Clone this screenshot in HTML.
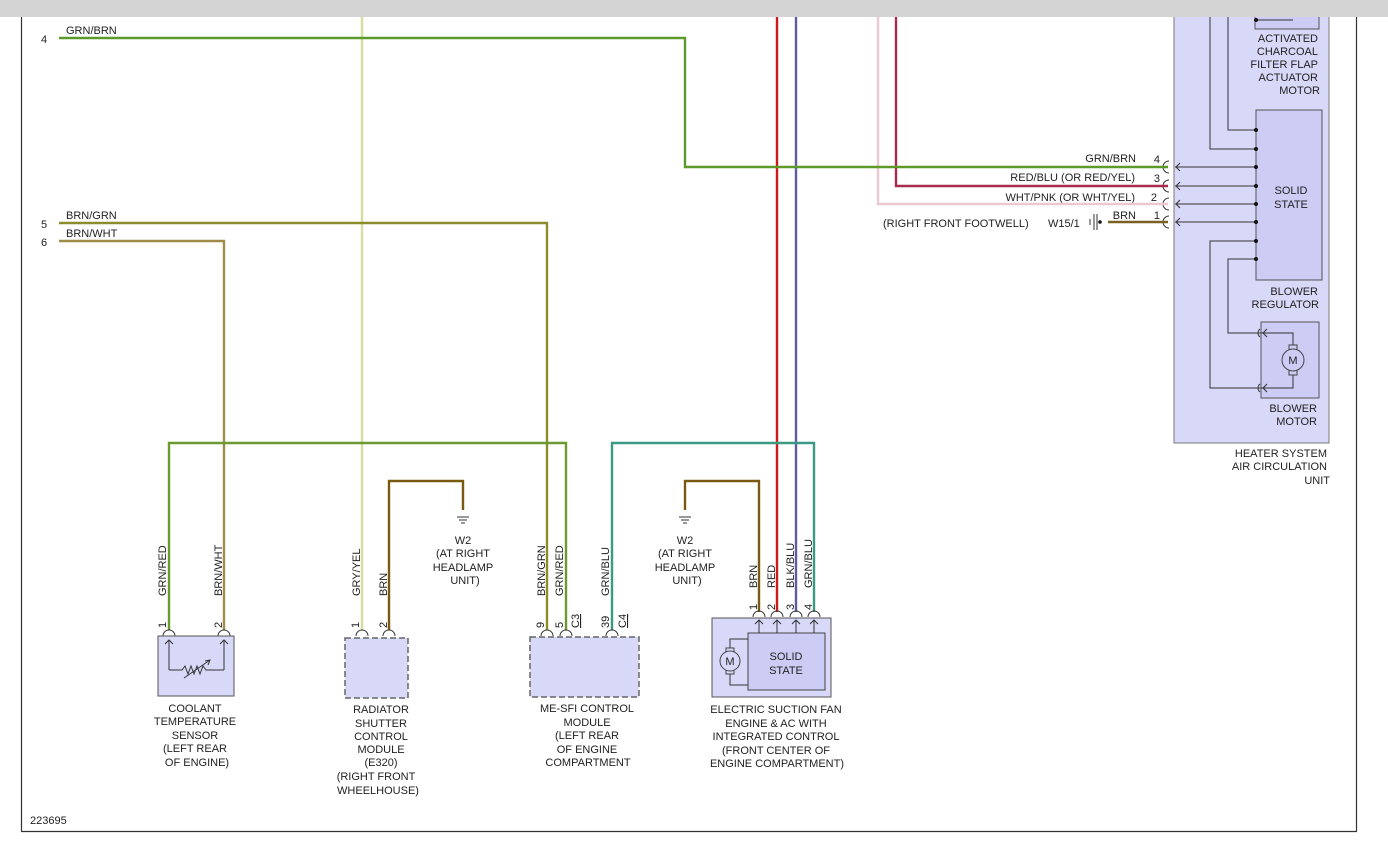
<!DOCTYPE html>
<html><head><meta charset="utf-8"><style>
html,body{margin:0;padding:0;background:#fff;}
svg{display:block;}
text{font-family:"Liberation Sans",sans-serif;font-size:11px;fill:#222;}
</style></head><body>
<svg width="1388" height="868" viewBox="0 0 1388 868" xmlns="http://www.w3.org/2000/svg">
<rect x="0" y="0" width="1388" height="868" fill="#fff"/>
<!-- frame -->
<line x1="21.5" y1="17" x2="21.5" y2="831" stroke="#333" stroke-width="1.2"/>
<line x1="1356.5" y1="17" x2="1356.5" y2="831" stroke="#333" stroke-width="1.2"/>
<line x1="21" y1="831.5" x2="1357" y2="831.5" stroke="#333" stroke-width="1.2"/>
<text x="30" y="824" font-size="10">223695</text>

<!-- heater box -->
<rect x="1174" y="5" width="155" height="438" fill="#d8d8f8" stroke="#777" stroke-width="1"/>
<rect x="1255" y="5" width="64" height="24" fill="#ccccf4" stroke="#555"/>
<line x1="1256" y1="20" x2="1293" y2="20" stroke="#333"/>
<circle cx="1256" cy="20" r="2" fill="#111"/>
<path d="M1228 17 V130 H1256 M1210 17 V149 H1256" fill="none" stroke="#333"/>
<rect x="1256" y="110" width="66" height="170" fill="#ccccf4" stroke="#555"/>
<path d="M1175 167 H1256 M1175 186 H1256 M1175 204 H1256 M1175 222 H1256" stroke="#333" fill="none"/>
<path d="M1256 241 H1210 V388 H1261 M1256 259 H1228 V333 H1261" stroke="#333" fill="none"/>
<g fill="#111"><circle cx="1256" cy="130" r="2"/><circle cx="1256" cy="149" r="2"/><circle cx="1256" cy="167" r="2"/><circle cx="1256" cy="186" r="2"/><circle cx="1256" cy="204" r="2"/><circle cx="1256" cy="222" r="2"/><circle cx="1256" cy="241" r="2"/><circle cx="1256" cy="259" r="2"/></g>
<rect x="1261" y="322" width="58" height="76" fill="#ccccf4" stroke="#555"/>
<path d="M1261 333 H1293 V348 M1261 388 H1293 V372" stroke="#333" fill="none"/>
<rect x="1289" y="345" width="8" height="30" fill="#ccccf4" stroke="#444"/>
<circle cx="1293" cy="360" r="11" fill="#ccccf4" stroke="#444"/>
<text x="1293" y="364" font-size="12" text-anchor="middle">M</text>
<g stroke="#333" fill="none"><path d="M1180 163 L1176 167 L1180 171"/><path d="M1180 182 L1176 186 L1180 190"/><path d="M1180 200 L1176 204 L1180 208"/><path d="M1180 218 L1176 222 L1180 226"/>
<path d="M1267 329 L1263 333 L1267 337"/><path d="M1267 384 L1263 388 L1267 392"/>
<path d="M1260 329 A5 5 0 0 0 1260 337"/><path d="M1260 384 A5 5 0 0 0 1260 392"/>
<path d="M1169 161 A6 6 0 0 0 1169 173"/><path d="M1169 180 A6 6 0 0 0 1169 192"/><path d="M1169 198 A6 6 0 0 0 1169 210"/><path d="M1169 216 A6 6 0 0 0 1169 228"/></g>
<g text-anchor="end"><text x="1318" y="42">ACTIVATED</text><text x="1318" y="55">CHARCOAL</text><text x="1318" y="68">FILTER FLAP</text><text x="1318" y="81">ACTUATOR</text><text x="1320" y="94">MOTOR</text>
<text x="1318" y="295">BLOWER</text><text x="1319" y="308">REGULATOR</text><text x="1317" y="412">BLOWER</text><text x="1317" y="425">MOTOR</text>
<text x="1327" y="457">HEATER SYSTEM</text><text x="1327" y="470">AIR CIRCULATION</text><text x="1330" y="484">UNIT</text>
<text x="1136" y="162">GRN/BRN</text><text x="1135" y="181">RED/BLU (OR RED/YEL)</text><text x="1135" y="201">WHT/PNK (OR WHT/YEL)</text><text x="1136" y="219">BRN</text>
<text x="1160" y="163">4</text><text x="1160" y="182">3</text><text x="1157" y="201">2</text><text x="1160" y="219">1</text></g>
<text x="1291" y="194" text-anchor="middle">SOLID</text><text x="1291" y="208" text-anchor="middle">STATE</text>
<text x="883" y="227">(RIGHT FRONT FOOTWELL)</text><text x="1048" y="227">W15/1</text>
<path d="M1090 219 V225 M1094 214 V230 M1097 214 V230" stroke="#333"/><circle cx="1100" cy="222" r="1.8" fill="#111"/>

<!-- wires -->
<g fill="none" stroke-width="2.4">
<path d="M362 17 V630" stroke="#d8dca0"/>
<path d="M878 17 V204 H1168" stroke="#ecc8d0"/>
<path d="M896 17 V186 H1168" stroke="#a82c50"/>
<path d="M777 17 V612" stroke="#cc1a1a"/>
<path d="M796 17 V612" stroke="#5c5ca0"/>
<path d="M59 38 H685 V167 H1168" stroke="#5c9a2c"/>
<path d="M1108 222 H1168" stroke="#7a6020"/>
<path d="M59 223 H547 V630" stroke="#8c8c2c"/>
<path d="M59 241 H224 V630" stroke="#a08c48"/>
<path d="M169 630 V443 H566 V630" stroke="#6a9a30"/>
<path d="M612 630 V443 H814 V612" stroke="#3c9a84"/>
<path d="M389 630 V481 H463 V510" stroke="#7a5a10"/>
<path d="M759 612 V481 H685 V510" stroke="#7a5a10"/>
</g>
<text x="66" y="34">GRN/BRN</text><text x="41" y="43">4</text>
<text x="66" y="219">BRN/GRN</text><text x="41" y="228">5</text>
<text x="66" y="237">BRN/WHT</text><text x="41" y="246">6</text>
<!-- grounds -->
<g stroke="#333"><path d="M457 517 H469 M459 520 H467 M461 523 H465"/><path d="M679 517 H691 M681 520 H689 M683 523 H687"/></g>
<g text-anchor="middle"><text x="463" y="544">W2</text><text x="463" y="557">(AT RIGHT</text><text x="463" y="571">HEADLAMP</text><text x="465" y="584">UNIT)</text>
<text x="685" y="544">W2</text><text x="685" y="557">(AT RIGHT</text><text x="685" y="571">HEADLAMP</text><text x="687" y="584">UNIT)</text></g>

<!-- vertical labels -->
<g>
<text transform="translate(166,596) rotate(-90)">GRN/RED</text>
<text transform="translate(222,596) rotate(-90)">BRN/WHT</text>
<text transform="translate(360,596) rotate(-90)">GRY/YEL</text>
<text transform="translate(387,596) rotate(-90)">BRN</text>
<text transform="translate(545,596) rotate(-90)">BRN/GRN</text>
<text transform="translate(563,596) rotate(-90)">GRN/RED</text>
<text transform="translate(609,596) rotate(-90)">GRN/BLU</text>
<text transform="translate(757,588) rotate(-90)">BRN</text>
<text transform="translate(775,588) rotate(-90)">RED</text>
<text transform="translate(794,588) rotate(-90)">BLK/BLU</text>
<text transform="translate(812,588) rotate(-90)">GRN/BLU</text>
<text transform="translate(166,628) rotate(-90)">1</text>
<text transform="translate(222,628) rotate(-90)">2</text>
<text transform="translate(359,628) rotate(-90)">1</text>
<text transform="translate(387,628) rotate(-90)">2</text>
<text transform="translate(544,628) rotate(-90)">9</text>
<text transform="translate(563,628) rotate(-90)">5</text>
<text transform="translate(579,628) rotate(-90)" text-decoration="underline">C3</text>
<text transform="translate(609,628) rotate(-90)">39</text>
<text transform="translate(626,628) rotate(-90)" text-decoration="underline">C4</text>
<text transform="translate(757,610) rotate(-90)">1</text>
<text transform="translate(775,610) rotate(-90)">2</text>
<text transform="translate(794,610) rotate(-90)">3</text>
<text transform="translate(812,610) rotate(-90)">4</text>
</g>
<!-- connector arcs -->
<g stroke="#333" fill="none">
<path d="M163 636 A6 6 0 0 1 175 636"/><path d="M218 636 A6 6 0 0 1 230 636"/>
<path d="M356 636 A6 6 0 0 1 368 636"/><path d="M383 636 A6 6 0 0 1 395 636"/>
<path d="M541 636 A6 6 0 0 1 553 636"/><path d="M560 636 A6 6 0 0 1 572 636"/><path d="M606 636 A6 6 0 0 1 618 636"/>
<path d="M753 617 A6 6 0 0 1 765 617"/><path d="M771 617 A6 6 0 0 1 783 617"/><path d="M790 617 A6 6 0 0 1 802 617"/><path d="M808 617 A6 6 0 0 1 820 617"/>
</g>

<!-- coolant -->
<rect x="158" y="636" width="76" height="60" fill="#d8d8f8" stroke="#555"/>
<path d="M169 670 V640 M165 644 L169 640 L173 644 M224 670 V640 M220 644 L224 640 L228 644 M169 670 H182 l3 -4 l3 8 l3 -8 l3 8 l3 -8 l3 8 l3 -8 l3 4 H224 M184 678 L210 660 M205 661 L210 660 L208 665" stroke="#333" fill="none"/>
<!-- radiator -->
<rect x="345" y="638" width="63" height="60" fill="#d8d8f8" stroke="#666" stroke-dasharray="6 3" stroke-width="1.5"/>
<!-- ME-SFI -->
<rect x="530" y="637" width="109" height="60" fill="#d8d8f8" stroke="#666" stroke-dasharray="6 3" stroke-width="1.5"/>
<!-- fan -->
<rect x="712" y="618" width="119" height="79" fill="#d8d8f8" stroke="#555"/>
<rect x="748" y="633" width="77" height="57" fill="#ccccf4" stroke="#444"/>
<path d="M759 633 V620 M755 624 L759 620 L763 624 M777 633 V620 M773 624 L777 620 L781 624 M796 633 V620 M792 624 L796 620 L800 624 M814 633 V620 M810 624 L814 620 L818 624 M748 639 H730 V651 M748 685 H730 V672" stroke="#333" fill="none"/>
<rect x="726" y="648" width="8" height="26" fill="#d8d8f8" stroke="#444"/>
<circle cx="730" cy="661" r="10" fill="#d8d8f8" stroke="#444"/>
<text x="730" y="665" font-size="12" text-anchor="middle">M</text>
<text x="786" y="660" text-anchor="middle">SOLID</text><text x="786" y="674" text-anchor="middle">STATE</text>

<!-- captions -->
<g text-anchor="middle">
<text x="195" y="712">COOLANT</text><text x="195" y="725">TEMPERATURE</text><text x="195" y="739">SENSOR</text><text x="195" y="752">(LEFT REAR</text><text x="197" y="766">OF ENGINE)</text>
<text x="381" y="713">RADIATOR</text><text x="381" y="727">SHUTTER</text><text x="381" y="740">CONTROL</text><text x="381" y="753">MODULE</text><text x="381" y="766">(E320)</text><text x="376" y="780">(RIGHT FRONT</text><text x="378" y="794">WHEELHOUSE)</text>
<text x="587" y="712">ME-SFI CONTROL</text><text x="587" y="726">MODULE</text><text x="587" y="739">(LEFT REAR</text><text x="587" y="753">OF ENGINE</text><text x="588" y="766">COMPARTMENT</text>
<text x="776" y="713">ELECTRIC SUCTION FAN</text><text x="776" y="727">ENGINE &amp; AC WITH</text><text x="776" y="740">INTEGRATED CONTROL</text><text x="776" y="754">(FRONT CENTER OF</text><text x="777" y="767">ENGINE COMPARTMENT)</text>
</g>
<rect x="0" y="0" width="1388" height="17" fill="#d4d4d4"/>
</svg>
</body></html>
